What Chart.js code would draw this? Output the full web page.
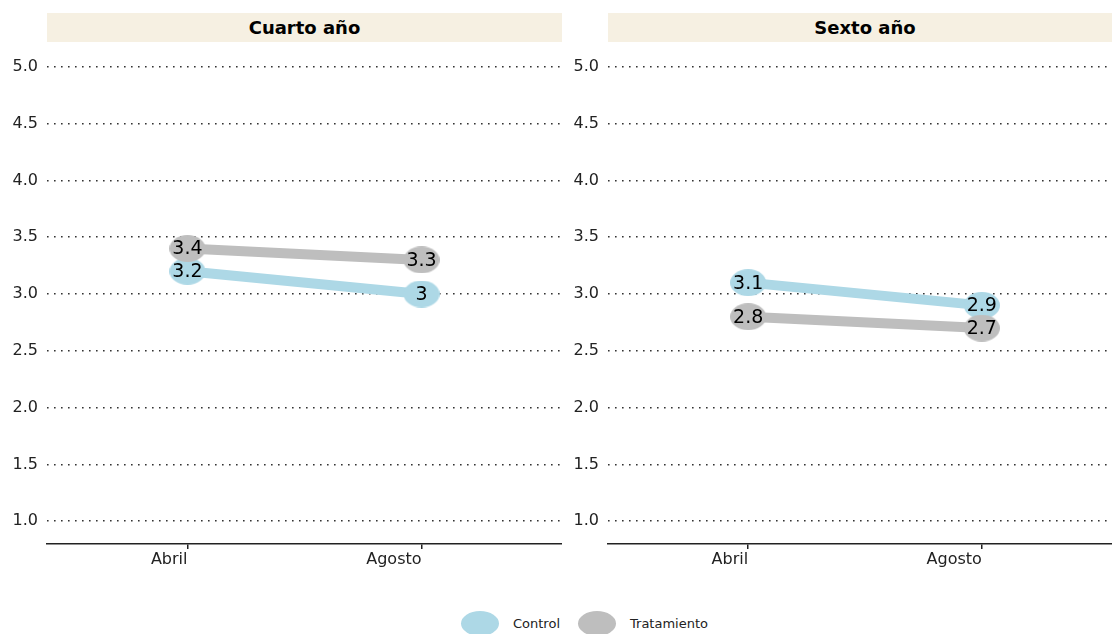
<!DOCTYPE html>
<html>
<head>
<meta charset="utf-8">
<script src="https://cdn.jsdelivr.net/npm/chart.js@4"></script>
<style>
  html, body { margin: 0; padding: 0; background: #fff; }
  body { width: 1112px; height: 634px; overflow: hidden; position: relative; font-family: "DejaVu Sans", sans-serif; }
  .panel { position: absolute; top: 0; height: 600px; }
  .strip { position: absolute; top: 13px; height: 29px; background: #f6f0e2; color: #000;
           font: bold 18px "DejaVu Sans", sans-serif; text-align: center; line-height: 29px; }
  .legend { position: absolute; top: 611px; left: 0; width: 1112px; height: 24px; font-size: 13px; color: #222; }
  .dot { position: absolute; width: 38px; height: 25px; border-radius: 50%; }
  .lab { position: absolute; top: 5px; }
</style>
</head>
<body>
<div class="strip" style="left:47px;width:515px;">Cuarto año</div>
<div class="strip" style="left:608px;width:514px;">Sexto año</div>
<div class="panel" style="left:0;width:562px;"><canvas id="cuarto"></canvas></div>
<div class="panel" style="left:561px;width:561px;"><canvas id="sexto"></canvas></div>
<div class="legend">
  <div class="dot" style="left:461px;background:#add8e6;"></div>
  <div class="lab" style="left:513px;">Control</div>
  <div class="dot" style="left:578px;background:#bebebe;"></div>
  <div class="lab" style="left:630px;">Tratamiento</div>
</div>
<script>
const meses = ['Abril', 'Agosto'];
const yTicks = [1.0, 1.5, 2.0, 2.5, 3.0, 3.5, 4.0, 4.5, 5.0];
const cuartoControl = [3.2, 3.0];
const cuartoTratamiento = [3.4, 3.3];
const sextoControl = [3.1, 2.9];
const sextoTratamiento = [2.8, 2.7];

const azul = '#add8e6';
const gris = '#bebebe';

function makeEllipse(color, w, h) {
    const c = document.createElement('canvas');
    c.width = w;
    c.height = h;
    const ctx = c.getContext('2d');
    ctx.fillStyle = color;
    ctx.beginPath();
    ctx.ellipse(w / 2, h / 2, w / 2, h / 2, 0, 0, Math.PI * 2);
    ctx.fill();
    return c;
}

// number written on top of each point
const valueLabels = {
    id: 'valueLabels',
    afterDatasetsDraw(chart) {
        const ctx = chart.ctx;
        ctx.save();
        ctx.font = '19px "DejaVu Sans"';
        ctx.fillStyle = '#000';
        ctx.textAlign = 'center';
        ctx.textBaseline = 'middle';
        chart.data.datasets.forEach((ds, i) => {
            chart.getDatasetMeta(i).data.forEach((pt, j) => {
                ctx.fillText(String(ds.data[j].y), pt.x, pt.y + 1);
            });
        });
        ctx.restore();
    }
};

function toPoints(arr) {
    return arr.map((v, i) => ({ x: i + 1, y: v }));
}

function CreatePanel(elementId, control, tratamiento) {
    const data = {
        datasets: [{
            label: 'Control',
            data: toPoints(control),
            borderColor: azul,
            backgroundColor: azul,
            borderWidth: 10,
            pointStyle: makeEllipse(azul, 36, 27),
            order: 2
        }, {
            label: 'Tratamiento',
            data: toPoints(tratamiento),
            borderColor: gris,
            backgroundColor: gris,
            borderWidth: 10,
            pointStyle: makeEllipse(gris, 36, 27),
            order: 1
        }]
    };
    const config = {
        type: 'line',
        data: data,
        options: {
            responsive: true,
            maintainAspectRatio: false,
            animation: false,
            events: [],
            layout: { autoPadding: false, padding: { top: 44, right: 0, left: 0, bottom: 0 } },
            plugins: {
                legend: { display: false },
                tooltip: { enabled: false }
            },
            scales: {
                x: {
                    type: 'linear',
                    min: 0.4,
                    max: 2.6,
                    afterBuildTicks: (s) => { s.ticks = meses.map((m, i) => ({ value: i + 1 })); },
                    afterFit: (s) => {
                        s.height = 56;
                        s.paddingLeft = 0;
                        s.paddingRight = 0;
                    },
                    border: { display: true, color: '#222', width: 1.5 },
                    grid: { drawOnChartArea: false, drawTicks: true, tickLength: 5, color: '#222', lineWidth: 1.5 },
                    ticks: {
                        align: 'end',
                        padding: 1,
                        color: '#222',
                        font: { family: 'DejaVu Sans', size: 16 },
                        callback: (v) => meses[v - 1]
                    }
                },
                y: {
                    min: 0.8,
                    max: 5.2,
                    afterBuildTicks: (s) => { s.ticks = yTicks.map(v => ({ value: v })); },
                    afterFit: (s) => { s.width = 47; },
                    border: { display: false, dash: [1.6, 5.4] },
                    grid: { color: '#333', lineWidth: 1.6, drawTicks: false },
                    ticks: {
                        padding: 9,
                        color: '#222',
                        font: { family: 'DejaVu Sans', size: 16 },
                        callback: (v) => v.toFixed(1)
                    }
                }
            }
        },
        plugins: [valueLabels]
    };
    const myChart = new Chart(document.getElementById(elementId), config);
    return myChart;
}

CreatePanel('cuarto', cuartoControl, cuartoTratamiento);
CreatePanel('sexto', sextoControl, sextoTratamiento);
</script>
</body>
</html>
